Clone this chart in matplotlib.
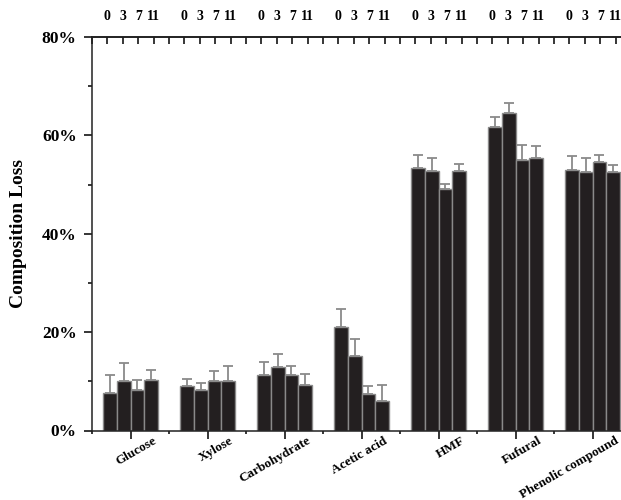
import matplotlib
matplotlib.use("Agg")
import matplotlib.pyplot as plt
import numpy as np
from matplotlib.ticker import FixedLocator, FuncFormatter

plt.rcParams["font.family"] = ["Liberation Serif", "DejaVu Serif"]
plt.rcParams["font.weight"] = "bold"

categories = ["Glucose", "Xylose", "Carbohydrate", "Acetic acid",
              "HMF", "Fufural", "Phenolic compound"]
days = ["0", "3", "7", "11"]

# composition loss (%) per component at day 0, 3, 7, 11
loss = np.array([
    [7.6, 10.1, 8.3, 10.3],
    [9.0, 8.3, 10.0, 10.1],
    [11.2, 12.9, 11.2, 9.3],
    [21.1, 15.2, 7.5, 6.0],
    [53.3, 52.7, 49.1, 52.7],
    [61.8, 64.6, 55.0, 55.3],
    [52.9, 52.5, 54.5, 52.5],
])
# upper error (top of error bar)
err_top = np.array([
    [11.2, 13.7, 10.2, 12.2],
    [10.4, 9.7, 12.0, 13.1],
    [13.9, 15.6, 13.1, 11.4],
    [24.7, 18.7, 9.0, 9.2],
    [56.0, 55.5, 50.2, 54.2],
    [63.8, 66.5, 58.1, 57.9],
    [55.9, 55.5, 56.0, 53.9],
])

bar_color = "#231f20"
edge_grey = "#8a8a8a"

fig = plt.figure(figsize=(6.21, 5.0), dpi=100)
# axes runs past the right border of the canvas
ax = fig.add_axes([92 / 621, 69.5 / 500, 539 / 621, 393.5 / 500])

n_cat = len(categories)
width = 0.18
x = np.arange(n_cat)
for j in range(len(days)):
    xs = x + (j - 1.5) * width
    ax.bar(xs, loss[:, j], width=width, color=bar_color,
           edgecolor=edge_grey, linewidth=1.0, zorder=2)
    upper = err_top[:, j] - loss[:, j]
    eb = ax.errorbar(xs, loss[:, j], yerr=[np.zeros(n_cat), upper],
                     fmt="none", ecolor=edge_grey, elinewidth=1.3,
                     capsize=3.5, capthick=1.3, zorder=1)
    for cap in eb[1]:
        cap.set_color("#333333")

ax.set_xlim(-0.5, n_cat - 0.5)
ax.set_ylim(0, 80)

ax.spines["right"].set_visible(False)
for side in ("left", "bottom", "top"):
    ax.spines[side].set_linewidth(1.1)
    ax.spines[side].set_color("#222222")

# y axis
ax.yaxis.set_major_locator(FixedLocator([0, 20, 40, 60, 80]))
ax.yaxis.set_minor_locator(FixedLocator([10, 30, 50, 70]))
ax.yaxis.set_major_formatter(FuncFormatter(lambda v, p: f"{v:.0f}%"))
ax.tick_params(axis="y", which="major", length=6, width=1.1, pad=5,
               labelsize=12.5)
ax.tick_params(axis="y", which="minor", length=3, width=1.1)
ax.set_ylabel("Composition Loss", fontsize=14, fontweight="bold")
ax.yaxis.set_label_coords(-0.12, 0.5)

# bottom x axis: category centres and group boundaries
ax.xaxis.set_major_locator(FixedLocator(x))
ax.xaxis.set_minor_locator(FixedLocator(np.arange(n_cat + 1) - 0.5))
ax.tick_params(axis="x", which="major", length=5.5, width=1.1,
               labelbottom=False)
ax.tick_params(axis="x", which="minor", length=2.5, width=1.1)
for i, name in enumerate(categories):
    ax.annotate(name, xy=(i, 0), xycoords=("data", "axes fraction"),
                xytext=(16, -3), textcoords="offset points",
                rotation=30, rotation_mode="anchor", ha="right", va="top",
                fontsize=9.5, fontweight="bold")

# top axis: sampling day for each bar
top = ax.secondary_xaxis("top")
top_ticks = []
top_labels = []
for i in range(n_cat):
    for k in range(5):
        top_ticks.append(i - 0.5 + k * 0.2)
        top_labels.append("" if k == 0 else days[k - 1])
top_ticks.append(n_cat - 0.5)
top_labels.append("")
top.set_xticks(top_ticks)
top.set_xticklabels(top_labels)
top.tick_params(axis="x", direction="in", length=5, width=1.1, pad=10,
                labelsize=10)
top.spines["top"].set_linewidth(1.1)

fig.savefig("out.png", dpi=100)
